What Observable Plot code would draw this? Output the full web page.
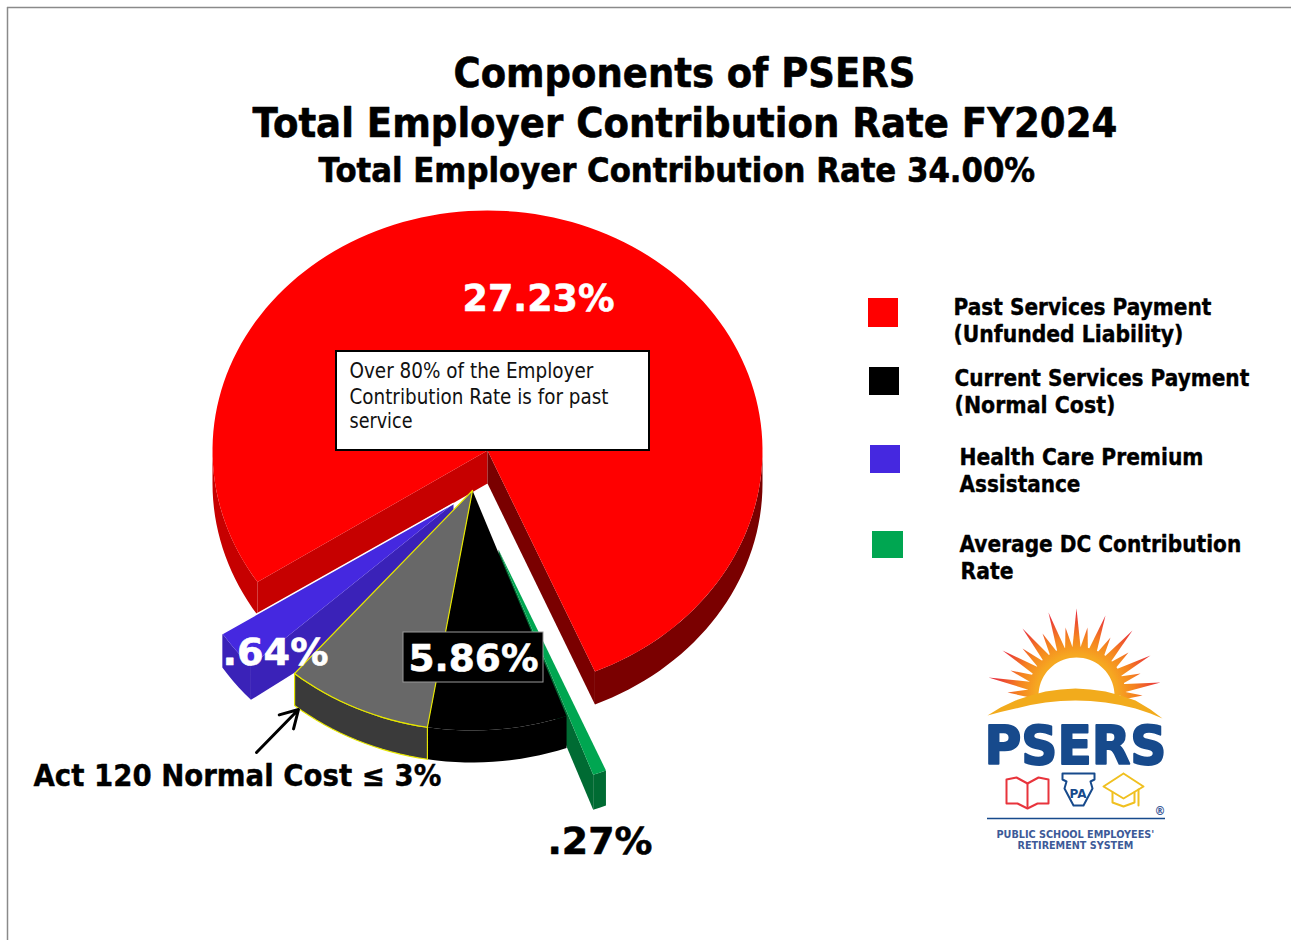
<!DOCTYPE html>
<html>
<head>
<meta charset="utf-8">
<script src="https://cdn.jsdelivr.net/npm/d3@7"></script>
<script src="https://cdn.jsdelivr.net/npm/@observablehq/plot@0.6"></script>
<style>
  html, body { margin: 0; padding: 0; background: #fff; }
  svg { display: block; }
</style>
</head>
<body>
<div id="chart"></div>
<script>
// Components of the total employer contribution rate, in percent.
const componentNames = [
  "Past Services Payment",
  "Current Services Payment",
  "Act 120 Normal Cost",
  "Health Care Premium Assistance",
  "Average DC Contribution Rate"
];
const componentRates = [27.23, 2.86, 3.0, 0.64, 0.27];

const titleLines = [
  "Components of PSERS",
  "Total Employer Contribution Rate FY2024",
  "Total Employer Contribution Rate 34.00%"
];
const calloutLines = [
  "Over 80% of the Employer",
  "Contribution Rate is for past",
  "service"
];
const legendLines = [
  "Past Services Payment", "(Unfunded Liability)",
  "Current Services Payment", "(Normal Cost)",
  "Health Care Premium", "Assistance",
  "Average DC Contribution", "Rate"
];

const total = d3.sum(componentRates);
const sweepOf = (rate) => (rate / total) * 360;
const RX = 275, RY = 240, RAD = Math.PI / 180;

// A point on the tilted pie's rim; angles run clockwise from twelve o'clock.
const rim = (cx, cy, deg, dy = 0) => ({
  x: cx + RX * Math.sin(deg * RAD),
  y: cy - RY * Math.cos(deg * RAD) + dy
});
const arc = (cx, cy, from, to, dy = 0) => {
  const n = Math.max(2, Math.ceil(Math.abs(to - from) / 2));
  return d3.range(n + 1).map((i) => rim(cx, cy, from + ((to - from) * i) / n, dy));
};
const closed = (pts) => [...pts, pts[0]];
const wedgePts = (cx, cy, from, to) => closed([{ x: cx, y: cy }, ...arc(cx, cy, from, to)]);
const rimWall = (cx, cy, from, to, depth) =>
  closed([...arc(cx, cy, from, to), ...arc(cx, cy, to, from, depth)]);
const radialWall = (cx, cy, deg, depth, apexDepth = depth) => {
  const p = rim(cx, cy, deg);
  return closed([{ x: cx, y: cy }, p, { x: p.x, y: p.y + depth }, { x: cx, y: cy + apexDepth }]);
};
const poly = (pts, fill, stroke = "none", strokeWidth = 1) =>
  Plot.line(pts, { x: "x", y: "y", fill, stroke, strokeWidth, strokeLinejoin: "round" });

// Slice placement on the page: each wedge is pulled away from the pie on its own.
// The tilt foreshortens the large slices slightly; the thin blue one is widened to stay legible.
const DEPTH = 33, FORESHORTEN = 0.972, THIN_WIDEN = 1.44;
const past = { cx: 487, cy: 450, end: 157 };
past.start = past.end - FORESHORTEN * sweepOf(componentRates[0]);
const core = { cx: 472, cy: 490, start: 160 };
core.mid = core.start + FORESHORTEN * sweepOf(componentRates[1]);
core.end = core.mid + FORESHORTEN * sweepOf(componentRates[2]);
const health = { cx: 453, cy: 503, end: 237.2 };
health.start = health.end - THIN_WIDEN * sweepOf(componentRates[3]);
const dc = { cx: 498, cy: 549, start: 157 };
dc.end = dc.start + sweepOf(componentRates[4]);

const pieMarks = [
  // Past services: walls first, then the top face.
  poly(rimWall(past.cx, past.cy, past.start, -90, DEPTH), "#c60000"),
  poly(radialWall(past.cx, past.cy, past.start, DEPTH), "#c60000"),
  poly(radialWall(past.cx, past.cy, past.end, DEPTH), "#7a0000"),
  poly(rimWall(past.cx, past.cy, 90, past.end, DEPTH), "#7a0000"),
  poly(wedgePts(past.cx, past.cy, past.start, past.end), "#ff0000"),
  // Health care premium assistance.
  poly(rimWall(health.cx, health.cy, health.start, health.end, 34), "#3a22b8"),
  poly(radialWall(health.cx, health.cy, health.start, 34, 70), "#3a22b8"),
  poly(wedgePts(health.cx, health.cy, health.start, health.end), "#4528e0"),
  Plot.line([{ x: health.cx, y: health.cy }, rim(health.cx, health.cy, health.end)],
    { x: "x", y: "y", stroke: "#fff", strokeWidth: 1.5 }),
  // Average DC contribution.
  poly(rimWall(dc.cx, dc.cy, dc.start, dc.end, 35), "#006b33"),
  poly(radialWall(dc.cx, dc.cy, dc.end, 35), "#006b33"),
  poly(wedgePts(dc.cx, dc.cy, dc.start, dc.end), "#00a651"),
  // Current services, with the Act 120 part outlined in yellow.
  poly(rimWall(core.cx, core.cy, core.start, core.mid, 32), "#000"),
  poly(wedgePts(core.cx, core.cy, core.start, core.mid), "#000"),
  poly(rimWall(core.cx, core.cy, core.mid, core.end, 32), "#3a3a3a", "#e6e600", 1.2),
  poly(wedgePts(core.cx, core.cy, core.mid, core.end), "#686868", "#e6e600", 1.2)
];

// Text placement. Each line is fitted to its measured width after rendering.
const FONT = "DejaVu Sans";
const textRows = [
  { t: titleLines[0], x: 453, y: 86, w: 462, s: 40, c: "#000", b: 1 },
  { t: titleLines[1], x: 252, y: 136, w: 865, s: 40, c: "#000", b: 1 },
  { t: titleLines[2], x: 318, y: 181, w: 717, s: 33, c: "#000", b: 1 },
  { t: legendLines[0], x: 953, y: 314, w: 258, s: 23.5, c: "#000", b: 1 },
  { t: legendLines[1], x: 953, y: 341, w: 230, s: 23.5, c: "#000", b: 1 },
  { t: legendLines[2], x: 954, y: 385, w: 295, s: 23.5, c: "#000", b: 1 },
  { t: legendLines[3], x: 954, y: 412, w: 161, s: 23.5, c: "#000", b: 1 },
  { t: legendLines[4], x: 959, y: 464, w: 244, s: 23.5, c: "#000", b: 1 },
  { t: legendLines[5], x: 959, y: 491, w: 121, s: 23.5, c: "#000", b: 1 },
  { t: legendLines[6], x: 959, y: 551, w: 282, s: 23.5, c: "#000", b: 1 },
  { t: legendLines[7], x: 960, y: 578, w: 53, s: 23.5, c: "#000", b: 1 },
  { t: "27.23%", x: 462, y: 310, w: 152, s: 38, c: "#fff", b: 1 },
  { t: ".64%", x: 222, y: 664, w: 106, s: 37, c: "#fff", b: 1 },
  { t: "5.86%", x: 408, y: 670, w: 130, s: 38, c: "#fff", b: 1 },
  { t: ".27%", x: 547, y: 853, w: 105, s: 38, c: "#000", b: 1 },
  { t: "Act 120 Normal Cost ≤ 3%", x: 33, y: 785, w: 408, s: 30, c: "#000", b: 1 },
  { t: calloutLines[0], x: 349, y: 377, w: 244, s: 21, c: "#111", b: 0 },
  { t: calloutLines[1], x: 349, y: 403, w: 259, s: 21, c: "#111", b: 0 },
  { t: calloutLines[2], x: 349, y: 427, w: 63, s: 21, c: "#111", b: 0 },
  { t: "PSERS", x: 984, y: 763, w: 182, s: 54, c: "#174a8c", b: 1 },
  { t: "PUBLIC SCHOOL EMPLOYEES'", x: 996, y: 837, w: 158, s: 10.5, c: "#3d5a98", b: 1 },
  { t: "RETIREMENT SYSTEM", x: 1017, y: 848, w: 116, s: 10.5, c: "#3d5a98", b: 1 },
  { t: "PA", x: 1069, y: 797, w: 17, s: 12, c: "#174a8c", b: 1 },
  { t: "®", x: 1154, y: 814, w: 11, s: 12, c: "#3d5a98", b: 1 }
];
const fitted = new Map(textRows.map((d) => [d.t, d.w]));

const textMark = (rows) => Plot.text(rows, {
  x: "x", y: "y", text: "t", fill: rows[0].c, fontSize: rows[0].s,
  fontWeight: rows[0].b ? 700 : 400, textAnchor: "start", lineAnchor: "bottom",
  fontFamily: FONT,
  // Large bold lines get a hairline of extra weight; the logotype a heavier one.
  stroke: rows[0].b && rows[0].s >= 23 ? rows[0].c : "none",
  strokeWidth: rows[0].s >= 50 ? 2 : rows[0].s >= 33 ? 0.6 : 0.4
});
const textMarks = d3.groups(textRows, (d) => `${d.c}|${d.s}|${d.b}`).map(([, rows]) => textMark(rows));

// Legend swatches.
const swatches = [
  { x1: 868, x2: 898, y1: 298, y2: 327, fill: "#ff0000" },
  { x1: 869, x2: 899, y1: 367, y2: 395, fill: "#000000" },
  { x1: 870, x2: 900, y1: 445, y2: 473, fill: "#4528e0" },
  { x1: 872, x2: 903, y1: 531, y2: 558, fill: "#00a651" }
];

// Logo: rising sun, ring, swoosh and the three small icons.
const sunCentre = { x: 1076, y: 695 };
const rayTips = [
  [1076, 608], [1048, 612], [1105, 615], [1022, 628], [1132, 630], [1002, 650], [1150, 655], [988, 677], [1160, 682],
  [1065, 627], [1087, 627], [1042, 633], [1110, 637], [1022, 648], [1128, 652], [1010, 670], [1140, 673], [1007, 692], [1142, 695]
];
const rays = rayTips.map(([x, y]) => {
  const a = Math.atan2(y - sunCentre.y, x - sunCentre.x);
  const p = a + Math.PI / 2, r = 44, w = 4.5;
  const bx = sunCentre.x + r * Math.cos(a), by = sunCentre.y + r * Math.sin(a);
  return closed([
    { x, y },
    { x: bx + w * Math.cos(p), y: by + w * Math.sin(p) },
    { x: bx - w * Math.cos(p), y: by - w * Math.sin(p) }
  ]);
});
const ring = closed([
  ...d3.range(-180, 1, 5).map((a) => ({ x: sunCentre.x + 49 * Math.cos(a * RAD), y: sunCentre.y + 49 * Math.sin(a * RAD) })),
  ...d3.range(0, -181, -5).map((a) => ({ x: sunCentre.x + 38 * Math.cos(a * RAD), y: sunCentre.y + 38 * Math.sin(a * RAD) }))
]);
const xy = (list) => list.map(([x, y]) => ({ x, y }));
const swooshTop = [[987, 715], [1000, 707], [1015, 700], [1030, 695], [1045, 691], [1060, 689], [1075, 688],
  [1090, 689], [1105, 691], [1120, 695], [1135, 700], [1150, 709], [1162, 718]];
const swooshBottom = [[1150, 713], [1135, 708], [1120, 704.5], [1105, 702], [1090, 700.5], [1075, 700],
  [1060, 700.5], [1045, 702], [1030, 704.5], [1015, 708], [1000, 711.5], [987, 715]];
const swoosh = xy([...swooshTop, ...swooshBottom]);
const clearing = xy([...swooshTop.map(([x, y]) => [x, y + 2]), [1162, 725], [987, 725]]);
const outline = (list, stroke, w = 2) =>
  Plot.line(xy(list), { x: "x", y: "y", stroke, strokeWidth: w, strokeLinejoin: "round" });

const sunGradient = () => {
  const svg = d3.create("svg:defs");
  const g = svg.append("radialGradient").attr("id", "sun").attr("gradientUnits", "userSpaceOnUse")
    .attr("cx", sunCentre.x).attr("cy", sunCentre.y).attr("r", 90);
  g.append("stop").attr("offset", "45%").attr("stop-color", "#f6a821");
  g.append("stop").attr("offset", "65%").attr("stop-color", "#f58220");
  g.append("stop").attr("offset", "92%").attr("stop-color", "#e8303a");
  return svg.node();
};

const logoMarks = [
  sunGradient,
  ...rays.map((r) => poly(r, "url(#sun)")),
  poly(ring, "url(#sun)"),
  poly(clearing, "#fff"),
  poly(swoosh, "#f2ab1c"),
  outline([[1006, 779], [1016, 777], [1027, 783], [1038, 777], [1048, 779], [1048, 803], [1037, 803], [1027, 808], [1017, 803], [1006, 803], [1006, 779]], "#e8343c"),
  outline([[1027, 783], [1027, 806]], "#e8343c"),
  outline([[1062, 773], [1094, 773], [1094, 779], [1090, 781], [1092, 788], [1083, 805], [1073, 805], [1064, 788], [1066, 781], [1062, 779], [1062, 773]], "#174a8c"),
  outline([[1123, 773], [1143, 786], [1123, 798], [1103, 786], [1123, 773]], "#f0c020"),
  outline([[1112, 792], [1112, 802], [1123, 806], [1134, 802], [1134, 792]], "#f0c020"),
  outline([[1138, 789], [1138, 805]], "#f0c020"),
  Plot.ruleY([818], { x1: 987, x2: 1165, stroke: "#174a8c", strokeWidth: 1.5 })
];

const chart = Plot.plot({
  width: 1291,
  height: 940,
  margin: 0,
  x: { domain: [0, 1291], range: [0, 1291], axis: null },
  y: { domain: [0, 940], range: [0, 940], axis: null },
  marks: [
    // Page frame.
    Plot.ruleY([7], { x1: 7, x2: 1291, stroke: "#8a8a8a", strokeWidth: 1.5 }),
    Plot.ruleX([7], { y1: 7, y2: 940, stroke: "#8a8a8a", strokeWidth: 1.5 }),
    ...pieMarks,
    // Callout box and the label plate on the current-services slice.
    Plot.rect([{ x1: 336, x2: 649, y1: 351, y2: 450 }], { x1: "x1", x2: "x2", y1: "y1", y2: "y2", fill: "#fff", stroke: "#000", strokeWidth: 2 }),
    Plot.rect([{ x1: 403, x2: 543, y1: 632, y2: 682 }], { x1: "x1", x2: "x2", y1: "y1", y2: "y2", fill: "#000", stroke: "#999", strokeWidth: 1 }),
    Plot.arrow([{ x1: 256, y1: 752, x2: 298, y2: 709 }], { x1: "x1", y1: "y1", x2: "x2", y2: "y2", stroke: "#000", strokeWidth: 3, headLength: 14, bend: 0 }),
    Plot.rect(swatches, { x1: "x1", x2: "x2", y1: "y1", y2: "y2", fill: (d) => d.fill }),
    ...logoMarks,
    ...textMarks
  ]
});

document.getElementById("chart").append(chart);

// Narrow each line horizontally to its set width, which gives the condensed bold look.
d3.select(chart).selectAll("text").each(function () {
  const w = fitted.get(this.textContent);
  if (w) {
    const k = w / this.getComputedTextLength();
    const base = this.getAttribute("transform") || "";
    this.setAttribute("transform", `${base} scale(${k},1)`);
  }
});
</script>
</body>
</html>
